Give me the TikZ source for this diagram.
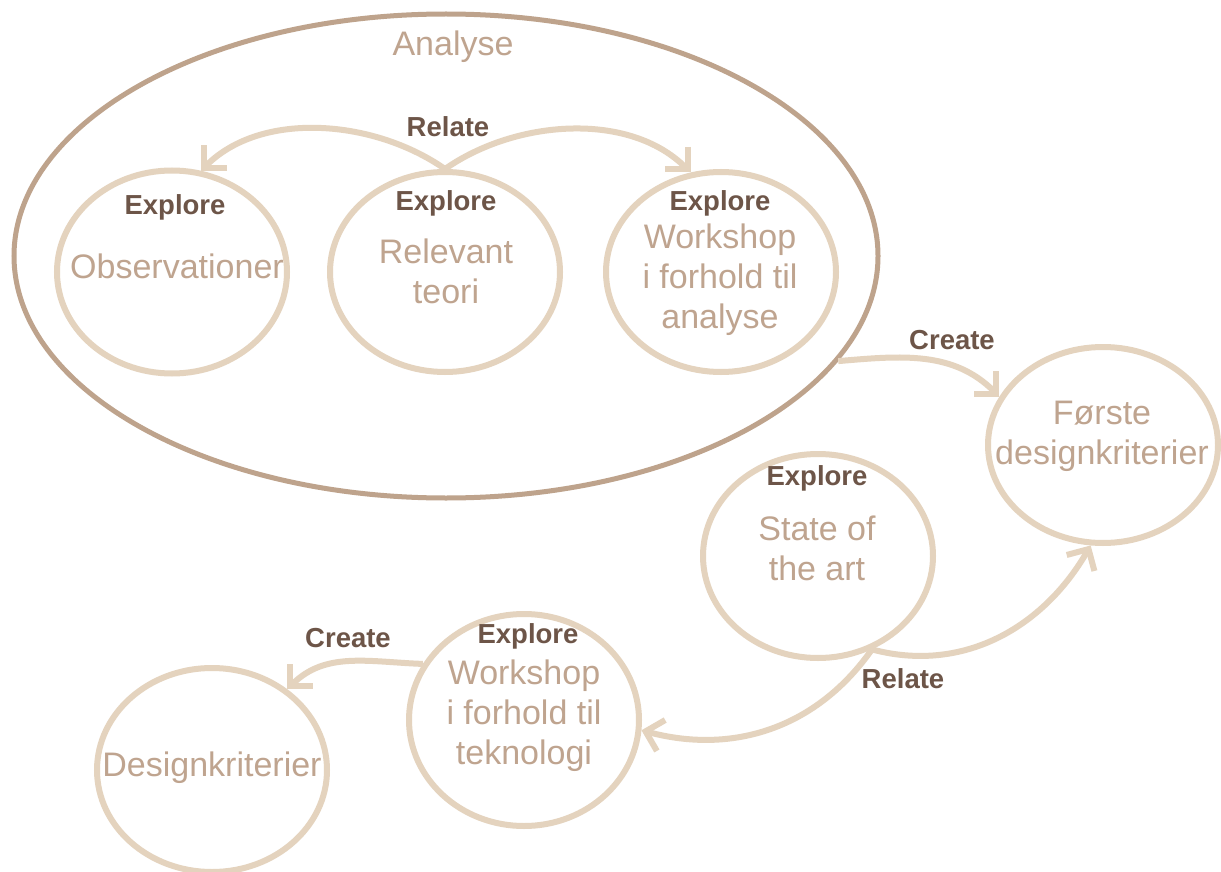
\documentclass[tikz,border=0pt]{standalone}
\usepackage{fontspec}
\setmainfont{Liberation Sans}
\usetikzlibrary{shapes.geometric, arrows.meta}
\definecolor{ringcol}{HTML}{E4D3BE}
\definecolor{outercol}{HTML}{BEA38C}
\definecolor{softtext}{HTML}{BFA48F}
\definecolor{darktext}{HTML}{6D5548}
\begin{document}
\begin{tikzpicture}[x=1pt, y=-1pt,
  ring/.style={ellipse, draw=ringcol, line width=6pt, inner sep=0pt, minimum width=230pt},
  phase/.style={font=\fontsize{34}{40}\selectfont, text=softtext, align=center, inner sep=0pt},
  verb/.style={font=\fontsize{27.5}{32}\selectfont\bfseries, text=darktext, inner sep=0pt},
  flow/.style={draw=ringcol, line width=6pt, -{Straight Barb[length=16pt,width=32pt]}}
]
\fill[white] (0,0) rectangle (1221,872);
\useasboundingbox (0,0) rectangle (1221,872);

% analysis phase container
\node[ellipse, draw=outercol, line width=5pt, inner sep=0pt,
      minimum width=864pt, minimum height=484pt] (analyse) at (446,256) {};
\node[phase] (analyseLbl) at (453,47) {Analyse};

% activities inside the analysis phase
\node[ring, minimum height=203pt] (obs) at (172,272) {};
\node[verb] (obsVerb) at (175,207) {Explore};
\node[phase] (obsTxt) at (177,266) {Observationer};

\node[ring, minimum height=200pt] (rel) at (445,272) {};
\node[verb] (relVerb) at (446,203) {Explore};
\node[phase] (relTxt) at (446,271) {Relevant\\teori};

\node[ring, minimum height=200pt] (wana) at (721,272) {};
\node[verb] (wanaVerb) at (720,203) {Explore};
\node[phase] (wanaTxt) at (720,280) {Workshop\\i forhold til\\analyse};

% outcomes and later activities
\node[ring, minimum height=196pt] (forste) at (1103,445) {};
\node[phase] (forsteTxt) at (1102,436) {Første\\designkriterier};

\node[ring, minimum height=204pt] (state) at (818,556) {};
\node[verb] (stateVerb) at (817,478) {Explore};
\node[phase] (stateTxt) at (817,548) {State of\\the art};

\node[ring, minimum height=212pt] (wtek) at (524,720) {};
\node[verb] (wtekVerb) at (528,636) {Explore};
\node[phase] (wtekTxt) at (524,716) {Workshop\\i forhold til\\teknologi};

\node[ring, minimum height=204pt] (dk) at (212,770) {};
\node[phase] (dkTxt) at (212,768) {Designkriterier};

% connector labels
\node[verb] (relateTop) at (448,127) {Relate};
\node[verb] (createTop) at (952,340) {Create};
\node[verb] (relateLow) at (903,679) {Relate};
\node[verb] (createLow) at (348,638) {Create};

% connectors
\draw[flow] (rel.north) to[out=145, in=45, looseness=0.9] (obs.74);
\draw[flow] (rel.north) to[out=35, in=135, looseness=0.9] (wana.107);
\draw[flow] (analyse.-15) to[out=5, in=135] (forste.155);
\draw[flow] (state.-60) to[out=-15, in=240] (forste.-97);
\draw[flow] (state.-60) to[out=235, in=-15] (wtek.-5);
\draw[flow] (wtek.151) to[out=178, in=45] (dk.47);
\end{tikzpicture}
\end{document}
